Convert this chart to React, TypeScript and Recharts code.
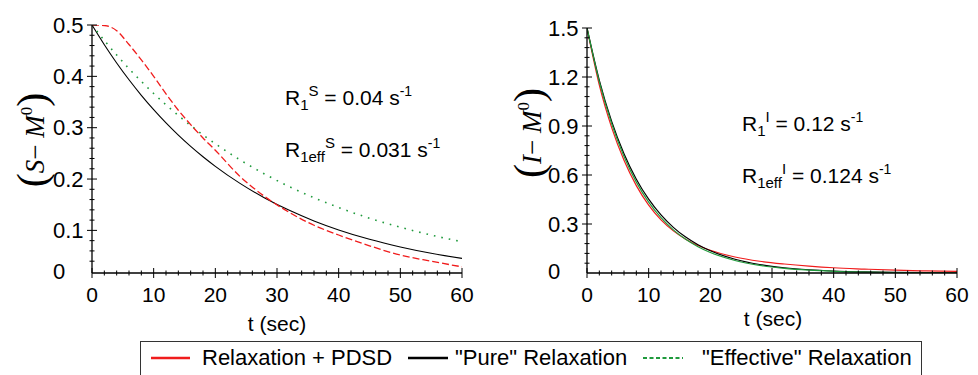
import React from 'react'
import { LineChart, Line, XAxis, YAxis } from 'recharts'

// time points (sec)
const times = [0, 2, 4, 6, 8, 10, 12, 14, 16, 18, 20, 24, 28, 32, 36, 40, 45, 50, 55, 60]

// left panel: (S - M0)
const pdsdS = [0.5, 0.499, 0.489, 0.462, 0.432, 0.4, 0.366, 0.334, 0.306, 0.28, 0.256, 0.205, 0.166, 0.135, 0.11, 0.091, 0.07, 0.052, 0.04, 0.029]
const pureS = [0.5, 0.4616, 0.4261, 0.3933, 0.3631, 0.3352, 0.3094, 0.2856, 0.2636, 0.2434, 0.2247, 0.1915, 0.1631, 0.139, 0.1184, 0.1009, 0.0826, 0.0677, 0.0554, 0.0454]
const effS = [0.5, 0.4699, 0.4416, 0.415, 0.3901, 0.3666, 0.3445, 0.3238, 0.3043, 0.286, 0.2688, 0.2374, 0.2097, 0.1852, 0.1636, 0.1445, 0.1237, 0.1061, 0.0909, 0.0778]

// right panel: (I - M0)
const pdsdI = [1.5, 1.15, 0.89, 0.69, 0.535, 0.415, 0.325, 0.258, 0.207, 0.168, 0.139, 0.098, 0.072, 0.055, 0.042, 0.032, 0.024, 0.017, 0.013, 0.01]
const pureI = [1.5, 1.1799, 0.9281, 0.73, 0.5742, 0.4518, 0.3554, 0.2796, 0.2199, 0.173, 0.1361, 0.0842, 0.0521, 0.0322, 0.0199, 0.0123, 0.0068, 0.0037, 0.002, 0.0011]
const effI = [1.5, 1.1706, 0.9135, 0.7129, 0.5564, 0.4342, 0.3388, 0.2643, 0.2063, 0.161, 0.1256, 0.0765, 0.0466, 0.0284, 0.0173, 0.0105, 0.0057, 0.003, 0.0016, 0.0009]

// axes
const xTicks = Array.from({ length: 31 }, (_, i) => i * 2)
const yMinS = 0.017 // Mathematica axis origin, labelled "0"
const yTicksS = [yMinS, ...Array.from({ length: 24 }, (_, i) => +(0.04 + i * 0.02).toFixed(2))]
const yTicksI = Array.from({ length: 26 }, (_, i) => +(i * 0.06).toFixed(2))

const RED = '#f01c1c'
const GREEN = '#1f9a3c'
const SANS = '"Liberation Sans", Arial, sans-serif'
const SERIF = '"Liberation Serif", "Times New Roman", serif'

const dataS = times.map((t, i) => ({ t, pdsd: pdsdS[i], pure: pureS[i], eff: effS[i] }))
const dataI = times.map((t, i) => ({ t, pdsd: pdsdI[i], pure: pureI[i], eff: effI[i] }))

function XTick(props: any) {
  const { x, y, payload } = props
  const v = payload.value
  const major = v % 10 === 0
  const len = major ? 5 : 2.5
  return (
    <g>
      <line x1={x} x2={x} y1={y - len} y2={y + len} stroke="#000" strokeWidth={1} />
      {major && (
        <text x={x} y={y + 29} textAnchor="middle" fontSize={21} fontFamily={SANS} fill="#000">
          {v}
        </text>
      )}
    </g>
  )
}

function makeYTick(step: number, zeroAt: number) {
  return (props: any) => {
    const { x, y, payload } = props
    const v = payload.value
    const isZero = v === zeroAt
    const major = isZero || Math.abs(v / step - Math.round(v / step)) < 1e-6
    const len = major ? 5 : 2.5
    return (
      <g>
        {!isZero && <line x1={x - len} x2={x + len} y1={y} y2={y} stroke="#000" strokeWidth={1} />}
        {major && (
          <text x={x - 39} y={y} dy={isZero ? -2 : 0} dominantBaseline="central" textAnchor="start" fontSize={22} fontFamily={SANS} fill="#000">
            {isZero ? '0' : v.toFixed(1)}
          </text>
        )}
      </g>
    )
  }
}

const YTickS = makeYTick(0.1, yMinS)
const YTickI = makeYTick(0.3, 0)

function AxisTitle({ x, y, letter }: { x: number; y: number; letter: string }) {
  return (
    <text transform={`translate(${x},${y}) rotate(-90)`} textAnchor="middle" fontFamily={SERIF} fontSize={27} fill="#000">
      <tspan fontSize={42} dy={2}>(</tspan>
      <tspan fontStyle="italic" dy={-2}>{letter}</tspan>
      <tspan>{'\u2212 '}</tspan>
      <tspan fontStyle="italic">M</tspan>
      <tspan fontSize={17} dy={-12}>0</tspan>
      <tspan fontSize={42} dy={14}>)</tspan>
    </text>
  )
}

function Rate({ x, y, sub, sup, value }: { x: number; y: number; sub: string; sup: string; value: string }) {
  return (
    <text x={x} y={y} fontFamily={SANS} fontSize={21} fill="#000">
      R<tspan fontSize={15} dy={5}>{sub}</tspan>
      <tspan fontSize={15} dy={-14}>{sup}</tspan>
      <tspan dy={9}>{` = ${value} s`}</tspan>
      <tspan fontSize={14} dy={-9}>-1</tspan>
    </text>
  )
}

function LegendBox() {
  const txt: React.CSSProperties = { position: 'absolute', top: 3, fontSize: 22, fontFamily: SANS, lineHeight: '26px', whiteSpace: 'nowrap', color: '#000' }
  return (
    <div style={{ position: 'absolute', left: 140, top: 341, width: 782, height: 42, border: '1px solid #333', boxSizing: 'border-box', background: '#fff' }}>
      <svg style={{ position: 'absolute', left: 0, top: 0 }} width={780} height={40}>
        <line x1={10} x2={49} y1={16} y2={16} stroke={RED} strokeWidth={2.5} />
        <line x1={267} x2={307} y1={16} y2={16} stroke="#000" strokeWidth={2.5} />
        <line x1={502} x2={542} y1={16} y2={16} stroke={GREEN} strokeWidth={2} strokeDasharray="4 2.5" />
      </svg>
      <span style={{ ...txt, left: 61 }}>Relaxation + PDSD</span>
      <span style={{ ...txt, left: 314 }}>"Pure" Relaxation</span>
      <span style={{ ...txt, left: 561 }}>"Effective" Relaxation</span>
    </div>
  )
}

export default function App() {
  return (
    <div style={{ position: 'absolute', left: 0, top: 0, width: 978, height: 375, background: '#fff', overflow: 'hidden' }}>
      <div style={{ position: 'absolute', left: 0, top: 0 }}>
        <LineChart width={490} height={310} data={dataS} margin={{ top: 25, right: 28, left: 32, bottom: 7 }}>
          <XAxis dataKey="t" type="number" domain={[0, 60]} ticks={xTicks} interval={0} tickSize={0} tickMargin={0} tickLine={false} tick={<XTick />} axisLine={{ stroke: '#000', strokeWidth: 1.3 }} height={30} allowDataOverflow />
          <YAxis type="number" domain={[yMinS, 0.5]} ticks={yTicksS} interval={0} tickSize={0} tickMargin={0} tickLine={false} tick={<YTickS />} axisLine={{ stroke: '#000', strokeWidth: 1.3 }} width={60} allowDataOverflow />
          <Line type="monotone" dataKey="pure" stroke="#000" strokeWidth={1.1} dot={false} isAnimationActive={false} />
          <Line type="monotone" dataKey="eff" stroke={GREEN} strokeWidth={1.6} strokeDasharray="1.6 6" dot={false} isAnimationActive={false} />
          <Line type="monotone" dataKey="pdsd" stroke={RED} strokeWidth={1.3} strokeDasharray="7 3" dot={false} isAnimationActive={false} />
        </LineChart>
      </div>
      <div style={{ position: 'absolute', left: 490, top: 0 }}>
        <LineChart width={488} height={310} data={dataI} margin={{ top: 28, right: 21, left: 37, bottom: 7 }}>
          <XAxis dataKey="t" type="number" domain={[0, 60]} ticks={xTicks} interval={0} tickSize={0} tickMargin={0} tickLine={false} tick={<XTick />} axisLine={{ stroke: '#000', strokeWidth: 1.3 }} height={30} allowDataOverflow />
          <YAxis type="number" domain={[0, 1.5]} ticks={yTicksI} interval={0} tickSize={0} tickMargin={0} tickLine={false} tick={<YTickI />} axisLine={{ stroke: '#000', strokeWidth: 1.3 }} width={60} allowDataOverflow />
          <Line type="monotone" dataKey="pdsd" stroke={RED} strokeWidth={1.2} dot={false} isAnimationActive={false} />
          <Line type="monotone" dataKey="pure" stroke="#000" strokeWidth={1.2} dot={false} isAnimationActive={false} />
          <Line type="monotone" dataKey="eff" stroke={GREEN} strokeWidth={1.2} dot={false} isAnimationActive={false} />
        </LineChart>
      </div>

      <svg style={{ position: 'absolute', left: 0, top: 0, pointerEvents: 'none' }} width={978} height={375}>
        <AxisTitle x={44} y={140} letter="S" />
        <AxisTitle x={541} y={133} letter="I" />

        <text x={277} y={331} textAnchor="middle" fontFamily={SANS} fontSize={21} fill="#000">t (sec)</text>
        <text x={773} y={326} textAnchor="middle" fontFamily={SANS} fontSize={21} fill="#000">t (sec)</text>

        <Rate x={285} y={105} sub="1" sup="S" value="0.04" />
        <Rate x={285} y={157} sub="1eff" sup="S" value="0.031" />
        <Rate x={742} y={131} sub="1" sup="I" value="0.12" />
        <Rate x={742} y={183} sub="1eff" sup="I" value="0.124" />
      </svg>

      <LegendBox />
    </div>
  )
}
